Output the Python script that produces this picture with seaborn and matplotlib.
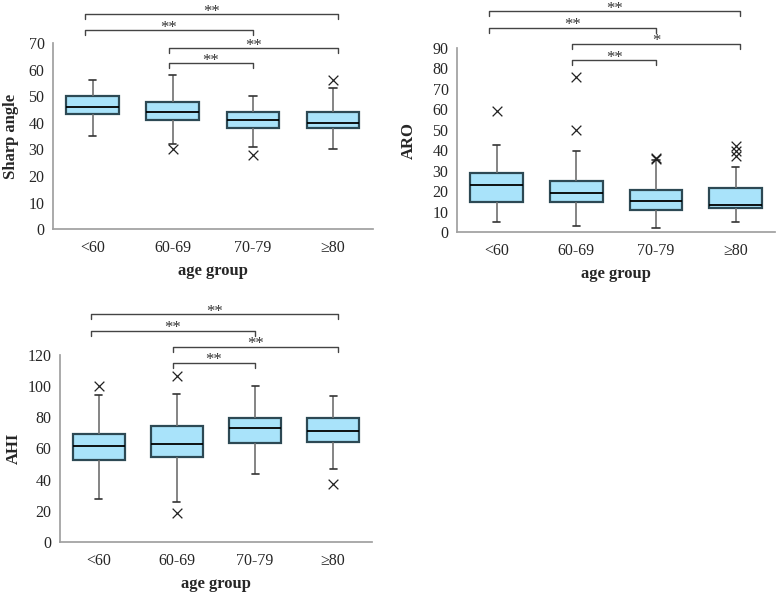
import pandas as pd
import seaborn as sns
import matplotlib.pyplot as plt
from matplotlib.ticker import FixedLocator

groups = ["<60", "60-69", "70-79", "≥80"]

# five-number summaries per group: whisker low, Q1, median, Q3, whisker high
sharp_box = [[35, 43.2, 46, 50, 56], [32, 41, 44, 48, 58],
             [31, 38, 41, 44, 50], [30, 38, 40, 44, 53]]
sharp_out = [[], [30], [28], [56]]

aro_box = [[5, 14.8, 23, 28.9, 42.7], [2.9, 14.5, 19, 24.8, 39.8],
           [1.8, 10.9, 15, 20.5, 35], [5, 11.9, 13.4, 21.7, 32]]
aro_out = [[59], [76, 50], [35.5, 36], [42, 39.6, 37]]

ahi_box = [[27.2, 52.3, 61.3, 69.6, 94.7], [25.3, 54.4, 62.8, 74.6, 95.1],
           [43.7, 63.2, 73, 79.5, 99.9], [46.9, 64.3, 71.4, 79.5, 93.6]]
ahi_out = [[99.9], [106.3, 18.6], [], [36.9]]

# significance brackets (group i, group j, label)
sharp_sig = [(0, 3, "**"), (0, 2, "**"), (1, 3, "**"), (1, 2, "**")]
aro_sig = [(0, 3, "**"), (0, 2, "**"), (1, 3, "*"), (1, 2, "**")]
ahi_sig = [(0, 3, "**"), (0, 2, "**"), (1, 3, "**"), (1, 2, "**")]


def to_long(values):
    rows = [(g, v) for g, vals in zip(groups, values) for v in vals]
    return pd.DataFrame(rows, columns=["group", "value"])


def draw_panel(ax, box, out, sig, ylabel, ymax, ystep, levels, ypad):
    sns.boxplot(data=to_long(box), x="group", y="value", order=groups,
                whis=(0, 100), width=0.66, color="#a9e3fa", saturation=1,
                fliersize=0, capwidths=0.09, ax=ax,
                boxprops=dict(edgecolor="#2d4954", linewidth=1.6),
                medianprops=dict(color="black", linewidth=1.3),
                whiskerprops=dict(color="#707070", linewidth=1.2),
                capprops=dict(color="#333333", linewidth=1.2))
    sns.stripplot(data=to_long(out), x="group", y="value", order=groups,
                  jitter=False, marker="x", color="#222222", size=7,
                  linewidth=0.9, ax=ax)

    ax.set_xlim(-0.5, 3.5)
    ax.set_ylim(0, ymax)
    ax.set_yticks(range(0, ymax + 1, ystep))
    ax.xaxis.set_minor_locator(FixedLocator([0.5, 1.5, 2.5, 3.5]))
    ax.tick_params(axis="x", which="major", length=0, labelsize=11.5, pad=8)
    ax.tick_params(axis="x", which="minor", length=5, color="#a0a0a0")
    ax.tick_params(axis="y", length=4, color="#a0a0a0", labelsize=11.5, pad=2)
    for side in ["top", "right"]:
        ax.spines[side].set_visible(False)
    for side in ["left", "bottom"]:
        ax.spines[side].set_color("#a0a0a0")

    ax.set_xlabel("age group", fontweight="bold", fontsize=12, labelpad=5)
    ax.set_ylabel(ylabel, fontweight="bold", fontsize=12, labelpad=ypad)

    # brackets above the boxes
    xpos = {0: -0.1, 1: 0.95, 2: 2.0, 3: 3.06}
    drop = ymax * 0.027
    for (i, j, label), y in zip(sig, levels):
        x1, x2 = xpos[i], xpos[j]
        ax.plot([x1, x1, x2, x2], [y - drop, y, y, y - drop],
                color="#444444", linewidth=1, clip_on=False)
        ax.annotate(label, ((x1 + x2) / 2, y), xytext=(0, -1),
                    textcoords="offset points", ha="center", va="baseline",
                    fontsize=12, color="#333333", annotation_clip=False)


sns.set_theme(style="white")
plt.rcParams["font.family"] = ["Liberation Serif", "DejaVu Serif"]

fig = plt.figure(figsize=(7.77, 5.92), dpi=100)
ax1 = fig.add_axes([0.068, 0.613, 0.412, 0.314])
ax2 = fig.add_axes([0.588, 0.608, 0.410, 0.311])
ax3 = fig.add_axes([0.077, 0.085, 0.402, 0.315])

draw_panel(ax1, sharp_box, sharp_out, sharp_sig, "Sharp angle", 70, 10,
           [80.9, 74.9, 68.1, 62.5], 7)
draw_panel(ax2, aro_box, aro_out, aro_sig, "ARO", 90, 10,
           [107.9, 99.9, 92.1, 84], 11)
draw_panel(ax3, ahi_box, ahi_out, ahi_sig, "AHI", 120, 20,
           [146.4, 135.6, 125.4, 115.1], 4)

fig.savefig("out.png", dpi=100)
